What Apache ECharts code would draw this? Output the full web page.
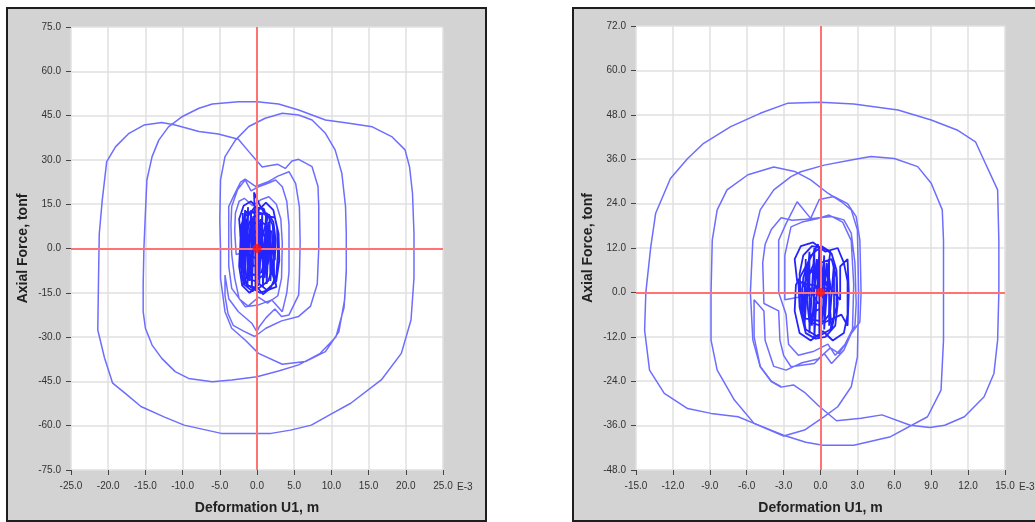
<!DOCTYPE html>
<html>
<head>
<meta charset="utf-8">
<title>Axial force vs deformation</title>
<script src="https://cdn.jsdelivr.net/npm/echarts@6/dist/echarts.min.js"></script>
<style>
html, body { margin: 0; padding: 0; background: #fff; }
.frame {
  position: absolute;
  box-sizing: border-box;
  border: 2px solid #1e1e1e;
  background: #d3d3d3;
}
#frameLeft { left: 6px; top: 7px; width: 481px; height: 515px; }
#frameRight { left: 572px; top: 7px; width: 480px; height: 515px; }
#chart { position: absolute; left: 0; top: 0; width: 1035px; height: 522px; }
</style>
</head>
<body>
<div class="frame" id="frameLeft"></div>
<div class="frame" id="frameRight"></div>
<div id="chart"></div>
<script>
// axis ranges: [min, max, interval]  (x in E-3 m, y in tonf)
const leftXRange = [-25, 25, 5];
const leftYRange = [-75, 75, 15];
const rightXRange = [-15, 15, 3];
const rightYRange = [-48, 72, 12];

const xName = "Deformation U1, m";
const yName = "Axial Force, tonf";
const xExponent = "E-3";

// left panel: dense small cycles around the origin
const leftCore = [
  [0,0],[0.8,5],[1.4,10],[0.9,13.5],[-0.3,14],[-1.2,11],[-1.8,6],[-2.0,-1],[-1.9,-8],[-1.3,-12.5],
  [0.2,-13.5],[1.5,-11],[2.2,-6],[2.4,1],[2.1,8],[1.3,12],[0,11.5],[-1,9],[-1.6,3],[-1.7,-4],
  [-1.4,-10],[-0.3,-11],[0.9,-9],[1.6,-4],[1.7,3],[1.2,8],[0.2,9.5],[-0.9,7],[-1.3,1],[-1.2,-6],
  [-0.5,-9],[0.6,-8],[1.2,-3],[1.1,4],[0.4,7],[-0.5,5],[-0.8,-1],[-0.5,-6],[0.4,-5],[0.7,-1],
  [0.4,3],[-0.2,2],[-2.2,4],[-2.4,10],[-1.8,14.5],[-0.8,16],[0.2,13],[1.2,15.5],[2.2,13],[2.7,7],
  [2.8,-2],[2.6,-9],[1.8,-13.5],[0.8,-15.5],[0,-13],[-1,-15],[-2,-12.5],[-2.4,-6],[-2.3,0],[-1.6,-3],
  [-1.8,-12],[-0.6,-14.5],[0.3,-12],[1.3,-14],[2.6,-11],[3.0,-4],[2.9,5],[2.4,10.5],[1.2,11],[0.3,15],
  [-0.4,19],[-0.3,12],[-1.4,12.5],[-2.1,8],[-2.2,-3],[-1.0,-2],[0.2,-4],[1.8,-1],[1.9,6],[0.6,4],
  [-0.1,-1],[0.1,0]
];

// left panel: extra strokes that fill the solid centre
const leftCoreDense = [
  [-1.9,12],[-2.1,-10],[-1.6,13],[-1.7,-12],[-1.2,14],[-1.3,-13],[-0.8,13],[-0.7,-14],[-0.3,14],[-0.2,-13],
  [0.2,13],[0.3,-12],[0.7,12],[0.8,-13],[1.2,11],[1.3,-12],[1.7,10],[1.8,-11],[2.2,7],[2.3,-9],
  [2.5,-12],[2.0,-8],[1.5,9],[1.0,-10],[0.5,10],[0,-11],[-0.5,11],[-1.0,-11],[-1.5,10],[-2.0,-8],
  [-2.2,6],[-1.7,-6],[-1.3,8],[-0.9,-8],[-0.4,9],[0.1,-9],[0.6,8],[1.1,-8],[1.6,7],[2.1,-6],
  [2.6,-13],[1.5,-14],[0.4,-15],[-0.9,-13],[-1.9,-11],[-2.3,-4],[-2.2,5],[-1.6,11],[-0.6,12.5],[0.6,12],
  [1.6,11.5],[2.2,9],[2.5,3],[2.4,-4]
];

// left panel: growing loops, then the large cycles
const leftLoops = [
  [0.2,0],[-2.8,-2],[-3.0,6],[-2.9,12],[-2.4,16],[-1.7,17],[-0.6,14.5],[0.5,16.5],[1.6,17.5],[2.6,15],
  [3.2,10],[3.4,2],[3.3,-10],[2.8,-16],[1.4,-18.5],[0.2,-16.5],[-1.2,-19.5],[-2.4,-17],[-3.0,-10],
  [-3.4,-2],[-3.5,8],[-3.4,14.2],[-2.6,20],[-1.6,23.2],[-0.8,19.5],[0.2,20.9],[1.4,22],[2.5,23.2],[3.4,20.9],
  [4.0,16],[4.3,8],[4.3,-8],[4.0,-15],[3.4,-21.4],[2.0,-17.4],[0.2,-19.1],[-1.6,-19.7],[-3.4,-13.5],[-3.8,-6],
  [-3.8,5],[-3.8,14.2],[-3.1,18],[-2.2,22.5],[-1.6,23.5],[-0.2,21],[1.4,22.5],[2.8,24.5],[4.3,26],[5.2,22],
  [5.7,14],[5.8,2],[5.7,-10],[5.6,-15.7],[4.3,-22.5],[3.3,-23],[2.4,-20.5],[1.2,-23.5],[0.3,-26.5],[0,-28.2],
  [-0.7,-25.3],[-2.5,-21.4],[-3.8,-17],[-4.3,-9],
  [-4.3,-16],[-3.9,-22],[-3.2,-26],[-1.8,-28],[-0.3,-29.8],[1.2,-27],[3.3,-24.5],[5.6,-23],[7.2,-19.5],[8.1,-12],
  [8.3,0],[8.3,14],[8.2,21],[7.4,27.7],[5.6,30.2],[4.7,29.6],[3.8,27.1],[2.8,28.5],[1.6,28],[0.7,27.6],
  [-0.3,30.5],[-1.1,32.8],[-2.5,37],[-5.2,38.8],[-7.8,39.6],[-11,41.8],[-12.8,42.7],[-15.2,41.8],[-17.2,39],[-19,34.5],
  [-20.2,29.4],[-20.8,16.4],[-21.2,5],[-21.3,-10],[-21.4,-27.6],[-20.5,-37],[-19.4,-45.6],[-17.5,-49.5],[-15.6,-53.5],[-12.5,-57],
  [-9.8,-59.8],[-4.8,-62.6],[1.9,-62.6],[4.5,-61.5],[7.3,-59.8],[10,-56],[12.6,-52.4],[16.7,-44.5],[19.4,-35.5],[20.7,-24.2],
  [21.1,-10],[21.1,5],[20.9,18.7],[20.5,27.7],[19.9,33.4],[18.1,37.9],[15.5,41.2],[11.9,42.6],[9.2,43.5],[7.4,45.2],
  [5.6,46.9],[2.9,48.9],[0,49.7],[-2.5,49.7],[-6,48.9],[-7.8,47.5],[-10.1,44.6],[-11.9,41.2],[-13.2,36.7],[-14.1,31.1],
  [-14.8,23.2],[-15,11.9],[-15.2,0],[-15.3,-12],[-15.3,-21.4],[-15,-27],[-14.1,-32.7],[-12.8,-37.2],[-11,-41.7],[-9.2,-44],
  [-6,-45.1],[-3.4,-44.5],[0,-43.4],[2.9,-41.5],[5.6,-39.4],[8.5,-35.5],[10.6,-30],[11.7,-20],[12,-8],[12,5],
  [11.9,14.2],[11.4,25.5],[10.5,33.4],[9.2,39],[7.4,43.5],[5.6,45.2],[3.4,45.8],[1.1,44.1],[-1.1,41.3],[-2.9,36.7],
  [-4.3,31.1],[-4.9,23.2],[-5,10],[-4.9,0],[-4.9,-10.1],[-4.3,-21.4],[-3.4,-27],[-1.6,-31],[0.2,-35.5],[3.4,-39.2],
  [6.5,-38.3],[9.2,-34.9],[11,-28.2],[11.8,-17],[12,-7]
];

// right panel: dense small cycles
const rightCore = [
  [0,0],[0.6,6],[0.8,11],[0.1,12.5],[-0.8,10],[-1.4,4],[-1.6,-4],[-1.2,-10],[-0.2,-12],[0.8,-10],
  [1.3,-4],[1.3,4],[0.9,9],[0,8],[-0.9,5],[-1.1,-2],[-0.9,-8],[0,-9],[0.7,-6],[0.9,0],
  [0.6,6],[-0.3,5],[-0.6,0],[-0.4,-5],[0.3,-4],[0.5,1],[-1.9,3],[-2.1,9],[-1.6,12.5],[-0.6,13.5],
  [0.4,11],[1.4,12],[1.9,8],[2.2,3],[2.2,-6],[1.9,-11],[1,-13],[0.2,-10.5],[-0.8,-13],[-1.7,-11],
  [-2.1,-5],[-2.0,2],[-1.2,7],[-0.2,13],[0.3,3],[1.6,-2],[1.6,7],[2.2,9],[2.3,0],[2.2,-9],
  [1.7,-6],[0.4,-8],[-1.3,-7],[-1.5,1],[-0.5,8],[0,0]
];

// right panel: extra strokes that fill the solid centre
const rightCoreDense = [
  [-1.2,9],[-1.3,-9],[-0.9,11],[-0.9,-11],[-0.5,12],[-0.5,-12],[-0.1,11],[-0.1,-11],[0.3,10],[0.3,-10],
  [0.7,9],[0.7,-9],[1.1,8],[1.1,-7],[0.9,-10],[0.5,8],[0.1,-8],[-0.3,9],[-0.7,-9],[-1.1,7],
  [-1.5,-6],[-1.7,5],[-1.4,10],[-0.7,12.5],[0.2,12],[0.9,10.5],[1.3,6],[1.4,-3],[1.2,-9],[0.4,-12],
  [-0.4,-12.5],[-1.2,-11],[-1.7,-4],[-1.8,3],[-1.0,2],[-0.2,-3],[0.6,1],[0.2,5],[-0.4,1]
];

// right panel: medium loops
const rightInner = [
  [0.3,0],[-2.9,-2],[-2.9,10],[-2.4,17.7],[-1.5,19],[-0.2,20],[0.7,20.9],[1.8,19],[2.5,14],[2.7,2],
  [2.6,-10],[2.0,-14],[1.2,-17],[0.6,-14],[-0.6,-16],[-1.8,-17],[-2.6,-14],[-2.8,-6],
  [-3.4,0],[-3.4,14.1],[-2.8,18.6],[-1.9,24.5],[-0.8,20],[-0.1,25.1],[1.1,25.9],[2.2,24],[2.9,20.5],[3.2,14.1],
  [3.3,0],[3.2,-8],[2.5,-11.1],[1.9,-15.6],[0.9,-19.2],[0.3,-16.5],[-0.5,-19.2],[-2.4,-20.1],[-3.0,-17],[-3.3,-12.9],
  [-3.4,-5],[-4.6,-3],[-4.7,8],[-4.5,13],[-4.0,17],[-3.2,20.2],[-2.3,19.5],[-1.2,19.8],[0.9,20.5],[1.9,19.6],
  [2.5,16],[2.8,8],[2.9,-3],[2.8,-9],[2.2,-13],[1.5,-16.5],[0.8,-15],[-0.2,-18],[-1.5,-19],[-2.8,-21],
  [-3.8,-20],[-4.5,-13],[-4.6,-5],[-5.4,-2],[-5.4,-12],[-4.9,-20],[-4.0,-24],[-3.2,-25.5]
];

// right panel: loop peaking near -3.8 / 34
const rightLoopE = [
  [-8.9,0],[-8.8,14.1],[-8.4,22.3],[-7.6,27.7],[-5.9,31.8],[-3.8,33.9],[-2.1,32.7],[-0.8,30.4],[0.6,26.8],[1.7,24.5],
  [2.5,22.3],[3.0,16.9],[3.1,0],[3.0,-17.4],[2.5,-25.5],[1.4,-30.9],[0.3,-33.6],[-1.3,-37.2],[-3,-38.8],[-5.4,-35.4],
  [-7,-29.1],[-8.4,-21],[-8.9,-12.9],[-8.9,0]
];

// right panel: the two largest cycles
const rightOuter = [
  [-14.2,0],[-14.3,-10.2],[-13.9,-21],[-12.7,-27.3],[-10.8,-31.4],[-8.9,-32.7],[-6.7,-33.6],[-5.4,-35.4],[-3,-38.6],[-1.2,-40.5],
  [0.2,-41.3],[2.7,-41.3],[5.7,-39],[8.7,-33.6],[9.8,-26.4],[10,-12.9],[10,0],[10,14.1],[9.9,22.3],[9,29.5],
  [7.9,34],[6,36.2],[4.1,36.7],[2.5,35.8],[0.3,34.4],[-1.6,32.6],[-2.4,31.3],[-3.8,27.7],[-4.9,22.3],[-5.5,14.1],
  [-5.7,0],[-5.5,-12.9],[-4.9,-20.1],[-4,-24.1],[-3.2,-25.6],[-2.2,-25],[-1.3,-27],[-0.2,-30.5],[1.3,-34.7],[3.3,-34],
  [5.0,-33.1],[7.3,-35.9],[8.9,-36.5],[10.1,-35.9],[11.7,-33.6],[13.3,-28.2],[14.1,-21.9],[14.4,-12.9],[14.5,0],[14.5,14.1],
  [14.4,27.7],[13.4,34.9],[12.6,40.7],[11.1,43.9],[9,46.6],[6.3,49.3],[2.7,50.9],[0,51.4],[-2.7,51.1],[-4.9,48.4],
  [-7.3,44.8],[-9.5,40.3],[-10.8,36.2],[-12.2,30.8],[-13.4,21.4],[-13.8,12.3],[-14.2,0]
];

const origin = [[0, 0]];

const tickFont = { fontFamily: "Liberation Sans, Arial, sans-serif", fontSize: 10, color: "#333" };
const nameFont = { fontFamily: "Liberation Sans, Arial, sans-serif", fontSize: 14, fontWeight: "bold", color: "#222" };

function makeAxis(range, gridIndex, isX) {
  return {
    type: "value",
    gridIndex: gridIndex,
    min: range[0],
    max: range[1],
    interval: range[2],
    name: isX ? xName : yName,
    nameLocation: "middle",
    nameGap: isX ? 31 : 41,
    nameTextStyle: nameFont,
    axisLine: { show: false, onZero: false },
    axisTick: { show: true, length: 5, lineStyle: { color: "#444", width: 1 } },
    axisLabel: Object.assign({ margin: isX ? 11 : 10, formatter: (v) => v.toFixed(1) }, tickFont),
    splitLine: { show: true, lineStyle: { color: "#e0e0e0", width: 1.5 } },
  };
}

function curve(data, idx, color, width, z) {
  return {
    type: "line",
    xAxisIndex: idx,
    yAxisIndex: idx,
    data: data,
    symbol: "none",
    showSymbol: false,
    silent: true,
    z: z,
    lineStyle: { color: color, width: width },
  };
}

function crossHair(idx) {
  return {
    type: "line",
    xAxisIndex: idx,
    yAxisIndex: idx,
    data: [],
    z: 1,
    silent: true,
    markLine: {
      silent: true,
      symbol: ["none", "none"],
      label: { show: false },
      lineStyle: { color: "#ff7373", width: 2, type: "solid" },
      data: [{ xAxis: 0 }, { yAxis: 0 }],
    },
  };
}

function originDot(idx) {
  return {
    type: "scatter",
    xAxisIndex: idx,
    yAxisIndex: idx,
    data: origin,
    symbolSize: 9,
    z: 5,
    silent: true,
    itemStyle: { color: "#ff1010" },
  };
}

const loopColor = "#6d6dff";
const coreColor = "#2424ff";

const chart = echarts.init(document.getElementById("chart"));
chart.setOption({
  animation: false,
  grid: [
    { left: 71, top: 27, width: 372, height: 443, show: true, backgroundColor: "#fff", borderWidth: 0 },
    { left: 636, top: 26, width: 369, height: 444, show: true, backgroundColor: "#fff", borderWidth: 0 },
  ],
  xAxis: [makeAxis(leftXRange, 0, true), makeAxis(rightXRange, 1, true)],
  yAxis: [makeAxis(leftYRange, 0, false), makeAxis(rightYRange, 1, false)],
  graphic: [
    { type: "text", left: 457, top: 482, style: { text: xExponent, fill: "#333", font: "10px Liberation Sans, Arial, sans-serif" } },
    { type: "text", left: 1019, top: 482, style: { text: xExponent, fill: "#333", font: "10px Liberation Sans, Arial, sans-serif" } },
  ],
  series: [
    crossHair(0),
    curve(leftLoops, 0, loopColor, 1.5, 3),
    curve(leftCore, 0, coreColor, 1.8, 4),
    curve(leftCoreDense, 0, coreColor, 1.8, 4),
    originDot(0),
    crossHair(1),
    curve(rightOuter, 1, loopColor, 1.5, 3),
    curve(rightLoopE, 1, loopColor, 1.5, 3),
    curve(rightInner, 1, loopColor, 1.5, 3),
    curve(rightCore, 1, coreColor, 1.8, 4),
    curve(rightCoreDense, 1, coreColor, 1.8, 4),
    originDot(1),
  ],
});
</script>
</body>
</html>
